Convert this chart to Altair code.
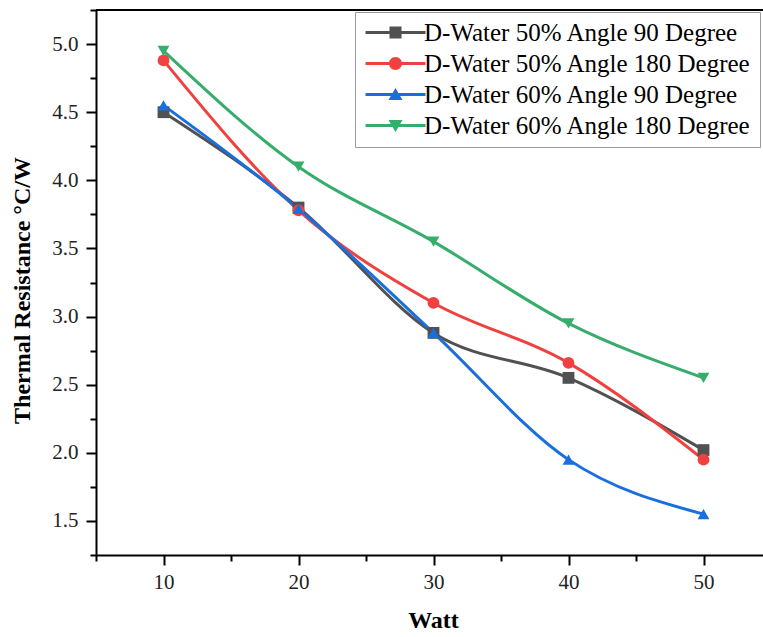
import altair as alt
import pandas as pd

watt = [10, 20, 30, 40, 50]
series_names = [
    "D-Water 50% Angle 90 Degree",
    "D-Water 50% Angle 180 Degree",
    "D-Water 60% Angle 90 Degree",
    "D-Water 60% Angle 180 Degree",
]
s1 = [4.50, 3.80, 2.88, 2.55, 2.02]
s2 = [4.88, 3.78, 3.10, 2.66, 1.95]
s3 = [4.55, 3.79, 2.88, 1.95, 1.55]
s4 = [4.95, 4.10, 3.55, 2.95, 2.55]
colors = ["#515151", "#F14040", "#1A6FDF", "#37AD6B"]
shapes = ["square", "circle", "triangle-up", "triangle-down"]
y_major = [1.5, 2.0, 2.5, 3.0, 3.5, 4.0, 4.5, 5.0]
y_minor = [1.25, 1.75, 2.25, 2.75, 3.25, 3.75, 4.25, 4.75, 5.25]
x_major = [10, 20, 30, 40, 50]
x_minor = [5, 15, 25, 35, 45]

rows = []
for name, vals in zip(series_names, [s1, s2, s3, s4]):
    for w, v in zip(watt, vals):
        rows.append({"Watt": w, "R": v, "Series": name})
df = pd.DataFrame(rows)

FONT = "Liberation Serif"
W, H = 667, 545
XDOM = [5, 5 + W / 13.5]
YDOM = [1.25, 5.25]

xs = alt.Scale(domain=XDOM, nice=False, zero=False)
ys = alt.Scale(domain=YDOM, nice=False, zero=False)

# legend symbol paths: line + marker
leg_paths = [
    "M-1,-0.15H5V0.15H-1Z M1.4,-0.6H2.6V0.6H1.4Z",
    "M-1,-0.15H5V0.15H-1Z M1.35,0A0.65,0.65 0 1,1 2.65,0A0.65,0.65 0 1,1 1.35,0Z",
    "M-1,-0.15H5V0.15H-1Z M2,-0.65L2.7,0.55L1.3,0.55Z",
    "M-1,-0.15H5V0.15H-1Z M2,0.65L1.3,-0.55L2.7,-0.55Z",
]

base = alt.Chart(df)

major_axes = base.mark_rule(color="black", strokeWidth=2).encode(
    x=alt.X("Watt:Q", scale=xs, axis=alt.Axis(
        values=x_major, tickSize=10, orient="bottom", title="Watt",
        titleFontSize=24, titleFont=FONT, titleFontWeight="bold", titleColor="black",
        titleX=337, titleY=65, titleBaseline="middle", titleAnchor="start", titleAlign="center",
        labelFontSize=21, labelFont=FONT, labelColor="#222", labelPadding=6)),
    y=alt.Y("R:Q", scale=ys, axis=alt.Axis(
        values=y_major, tickSize=10, orient="left", title="Thermal Resistance °C/W",
        titleFontSize=24, titleFont=FONT, titleFontWeight="bold", titleColor="black",
        titleX=-74, titleY=280, titleBaseline="middle", titleAlign="center", titleAngle=270,
        labelFontSize=21, labelFont=FONT, labelColor="#222", labelPadding=8,
        format=".1f")),
).transform_filter("datum.Watt == 10 && datum.R > 100")

top_border = alt.Chart(pd.DataFrame({"v": [YDOM[1]]})).mark_rule(
    color="black", strokeWidth=2).encode(
    y=alt.Y("v:Q", scale=ys, axis=alt.Axis(
        values=y_minor, tickSize=6, orient="left", labels=False, domain=False, title=None)),
    x=alt.value(0), x2=alt.value(W))

minor_x = alt.Chart(pd.DataFrame({"w": [5]})).mark_point(opacity=0).encode(
    x=alt.X("w:Q", scale=xs, axis=alt.Axis(
        values=x_minor, tickSize=6, orient="bottom", labels=False, domain=False, title=None)),
    y=alt.value(0))

lines = base.mark_line(interpolate="monotone", strokeWidth=3).encode(
    x=alt.X("Watt:Q", scale=xs, axis=None),
    y=alt.Y("R:Q", scale=ys, axis=None),
    color=alt.Color("Series:N", scale=alt.Scale(domain=series_names, range=colors), legend=None),
    detail="Series:N",
)

points = base.mark_point(filled=True, size=140, opacity=1).encode(
    x=alt.X("Watt:Q", scale=xs, axis=None),
    y=alt.Y("R:Q", scale=ys, axis=None),
    color=alt.Color("Series:N", scale=alt.Scale(domain=series_names, range=colors), legend=None),
    shape=alt.Shape("Series:N", scale=alt.Scale(domain=series_names, range=shapes), legend=None),
)

legend_layer = base.mark_point(filled=True, opacity=1).encode(
    x=alt.X("Watt:Q", scale=xs, axis=None),
    y=alt.Y("R:Q", scale=ys, axis=None),
    color=alt.Color("Series:N", scale=alt.Scale(domain=series_names, range=colors),
                    legend=alt.Legend(
                        title=None, orient="none", legendX=259, legendY=2,
                        symbolSize=400, symbolStrokeWidth=0, labelFont=FONT,
                        labelFontSize=25, labelColor="black", labelOffset=36,
                        rowPadding=5, padding=8, strokeColor="#999", fillColor="white",
                        labelLimit=500)),
    shape=alt.Shape("Series:N", scale=alt.Scale(domain=series_names, range=leg_paths)),
).transform_filter("datum.R > 100")

chart = alt.layer(
    major_axes, top_border, minor_x, lines, points, legend_layer
).resolve_axis(
    x="independent", y="independent"
).resolve_scale(
    color="independent", shape="independent"
).properties(
    width=W, height=H,
    autosize=alt.AutoSizeParams(type="none"),
    padding={"left": 96, "top": 10, "right": 0, "bottom": 82},
).configure(font=FONT).configure_view(stroke=None).configure_axis(
    grid=False, domainColor="black", domainWidth=2, tickColor="black", tickWidth=2,
    labelFont=FONT, titleFont=FONT,
).configure_legend(labelFont=FONT)

chart.save("out.html", embed_options={"renderer": "svg", "actions": False})
